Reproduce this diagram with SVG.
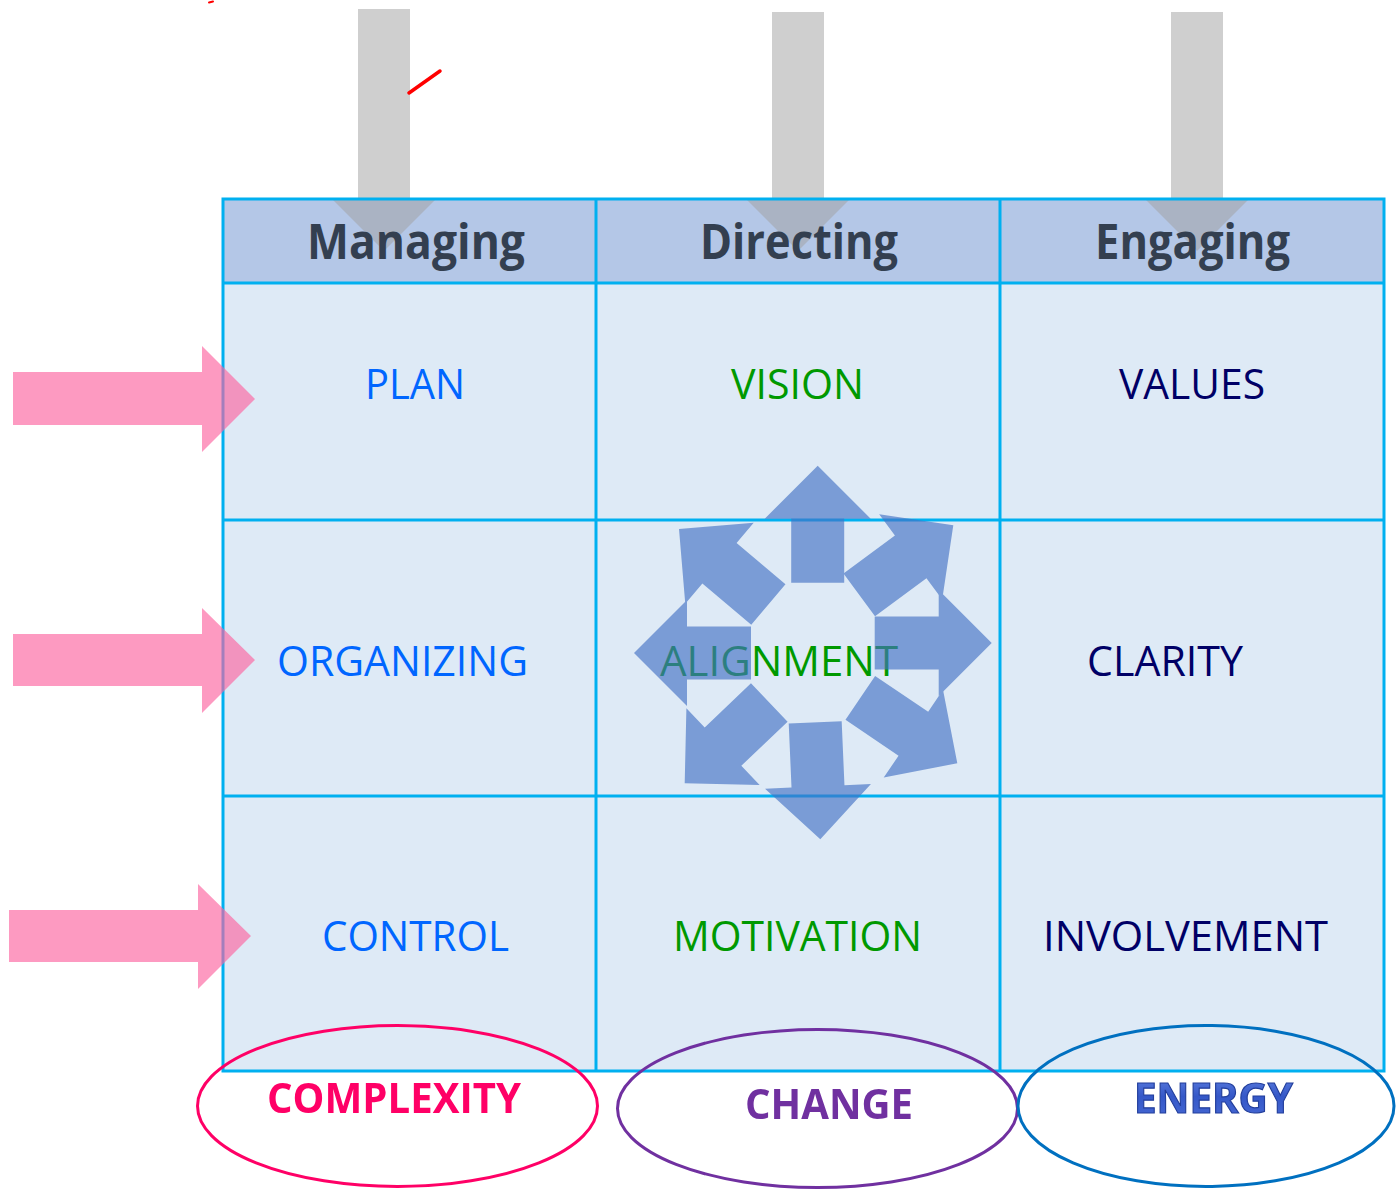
<svg xmlns="http://www.w3.org/2000/svg" xmlns:xlink="http://www.w3.org/1999/xlink" width="1396" height="1189" viewBox="0 0 1396 1189">
<style>
.hdr{fill:#b4c7e7}
.cell{fill:#deeaf6}
.grid{stroke:#00b0f0;stroke-width:3;fill:none}
.gray{fill:#a0a0a0;opacity:0.5}
.pink{fill:#fc64a0;opacity:0.65}
.ht{font-family:"Open Sans","Noto Sans",sans-serif;font-weight:700;font-size:48px;fill:#333f50;text-anchor:middle}
.ct{font-family:"Open Sans","Noto Sans",sans-serif;font-size:42px;text-anchor:middle}
.blue{fill:#0066ff}
.green{fill:#009900}
.navy{fill:#000066}
.bt{font-family:"Open Sans","Noto Sans",sans-serif;font-weight:700;font-size:42px;text-anchor:middle}
.ell{fill:none;stroke-width:3}
</style>
<defs>
<polygon id="sa" points="0,0 53,53 26.5,53 26.5,117 -26.5,117 -26.5,53 -53,53"/>
<linearGradient id="eg" x1="0" y1="0" x2="0" y2="1">
<stop offset="0" stop-color="#6a8ae6"/>
<stop offset="0.5" stop-color="#3558c8"/>
<stop offset="1" stop-color="#4a6cd6"/>
</linearGradient>
</defs>

<g id="table">
<rect class="hdr" x="223" y="199" width="1161" height="84"/>
<rect class="cell" x="223" y="283" width="1161" height="788"/>
</g>

<g id="top-arrows">
<polygon class="gray" points="358,9 410,9 410,199 436,199 384,251 332,199 358,199"/>
<polygon class="gray" points="772,12 824,12 824,199 850,199 798,251 746,199 772,199"/>
<polygon class="gray" points="1171,12 1223,12 1223,199 1249,199 1197,251 1145,199 1171,199"/>
</g>

<g id="grid">
<rect class="grid" x="223" y="199" width="1161" height="872"/>
<line class="grid" x1="223" y1="283" x2="1384" y2="283"/>
<line class="grid" x1="223" y1="520" x2="1384" y2="520"/>
<line class="grid" x1="223" y1="796" x2="1384" y2="796"/>
<line class="grid" x1="596" y1="199" x2="596" y2="1071"/>
<line class="grid" x1="1000" y1="199" x2="1000" y2="1071"/>
</g>

<g id="headers">
<text class="ht" x="416" y="259" textLength="218" lengthAdjust="spacingAndGlyphs">Managing</text>
<text class="ht" x="799" y="259" textLength="198" lengthAdjust="spacingAndGlyphs">Directing</text>
<text class="ht" x="1192.5" y="259" textLength="195" lengthAdjust="spacingAndGlyphs">Engaging</text>
</g>

<g id="cells">
<text class="ct blue" x="415" y="399" textLength="100" lengthAdjust="spacingAndGlyphs">PLAN</text>
<text class="ct green" x="797.5" y="399" textLength="133" lengthAdjust="spacingAndGlyphs">VISION</text>
<text class="ct navy" x="1192" y="399" textLength="146" lengthAdjust="spacingAndGlyphs">VALUES</text>
<text class="ct blue" x="402.5" y="676" textLength="251" lengthAdjust="spacingAndGlyphs">ORGANIZING</text>
<text class="ct green" x="779" y="676" textLength="238" lengthAdjust="spacingAndGlyphs">ALIGNMENT</text>
<text class="ct navy" x="1165" y="676" textLength="156" lengthAdjust="spacingAndGlyphs">CLARITY</text>
<text class="ct blue" x="415.5" y="951" textLength="187" lengthAdjust="spacingAndGlyphs">CONTROL</text>
<text class="ct green" x="797.5" y="951" textLength="249" lengthAdjust="spacingAndGlyphs">MOTIVATION</text>
<text class="ct navy" x="1185.5" y="951" textLength="285" lengthAdjust="spacingAndGlyphs">INVOLVEMENT</text>
</g>

<g id="alignment-star" fill="#4472c4" opacity="0.65">
<use xlink:href="#sa" href="#sa" transform="translate(817.7,465.7) rotate(0)"/>
<use xlink:href="#sa" href="#sa" transform="translate(953.3,525.3) rotate(53.5)"/>
<use xlink:href="#sa" href="#sa" transform="translate(991.7,643) rotate(90)"/>
<use xlink:href="#sa" href="#sa" transform="translate(957.3,763.3) rotate(124)"/>
<use xlink:href="#sa" href="#sa" transform="translate(820.3,839.3) rotate(177.5)"/>
<use xlink:href="#sa" href="#sa" transform="translate(684.7,783.3) rotate(-133.7)"/>
<use xlink:href="#sa" href="#sa" transform="translate(634,653) rotate(-90)"/>
<use xlink:href="#sa" href="#sa" transform="translate(679,529) rotate(-49.8)"/>
</g>

<g id="side-arrows">
<polygon class="pink" points="13,372 202,372 202,346 255,399 202,452 202,425 13,425"/>
<polygon class="pink" points="13,634 202,634 202,608 255,660 202,713 202,686 13,686"/>
<polygon class="pink" points="9,910 198,910 198,884 251,936 198,989 198,962 9,962"/>
</g>

<g id="complexity">
<ellipse class="ell" stroke="#ff0066" cx="397.5" cy="1106" rx="200" ry="80.5"/>
<text class="bt" fill="#ff0066" x="394" y="1113" textLength="254" lengthAdjust="spacingAndGlyphs">COMPLEXITY</text>
</g>
<g id="change">
<ellipse class="ell" stroke="#7030a0" cx="817.5" cy="1108.5" rx="200" ry="79"/>
<text class="bt" fill="#7030a0" x="829" y="1119" textLength="168" lengthAdjust="spacingAndGlyphs">CHANGE</text>
</g>
<g id="energy">
<ellipse class="ell" stroke="#0070c0" cx="1206" cy="1106" rx="188" ry="80.5"/>
<text class="bt" fill="url(#eg)" stroke="#233f9c" stroke-width="1.2" x="1213.5" y="1113" textLength="159" lengthAdjust="spacingAndGlyphs">ENERGY</text>
</g>

<g id="marks" stroke="#ff0000" stroke-linecap="round" fill="none">
<line x1="409" y1="93" x2="440" y2="71" stroke-width="3.5"/>
<line x1="209" y1="2.5" x2="213" y2="1.5" stroke-width="2"/>
</g>
</svg>
